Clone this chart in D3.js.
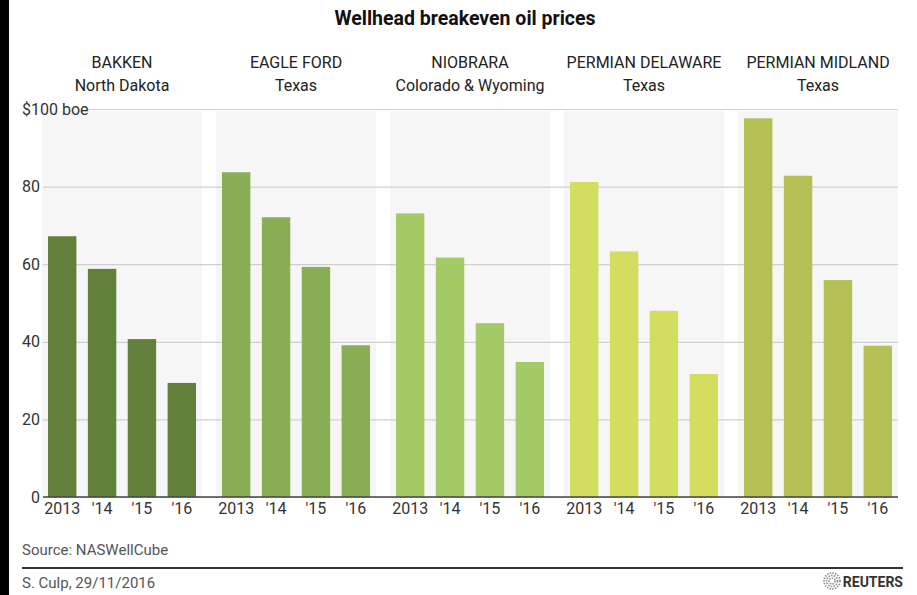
<!DOCTYPE html>
<html>
<head>
<meta charset="utf-8">
<script src="https://cdn.jsdelivr.net/npm/d3@7"></script>
<style>
  body { margin: 0; background: #fff; }
  text { font-family: Roboto, "Noto Sans", sans-serif; }
</style>
</head>
<body>
<div id="chart"></div>
<script>
// data
var regions = ["BAKKEN", "EAGLE FORD", "NIOBRARA", "PERMIAN DELAWARE", "PERMIAN MIDLAND"];
var states = ["North Dakota", "Texas", "Colorado & Wyoming", "Texas", "Texas"];
var years = ["2013", "'14", "'15", "'16"];
var bakken = [67.2, 58.8, 40.7, 29.4];
var eagleFord = [83.7, 72.1, 59.3, 39.1];
var niobrara = [73.1, 61.7, 44.8, 34.8];
var permianDelaware = [81.2, 63.3, 48.0, 31.7];
var permianMidland = [97.6, 82.8, 55.9, 39.0];
var yTicks = [0, 20, 40, 60, 80, 100];

var regionColors = ["#62803c", "#8aae55", "#a3ca66", "#d3de5f", "#b4bf54"];
var series = [bakken, eagleFord, niobrara, permianDelaware, permianMidland];

var svgWidth = 917, svgHeight = 595;

var svg = d3.select("#chart")
  .append("svg")
  .attr("width", svgWidth)
  .attr("height", svgHeight);

// dark strip at the left edge of the screenshot
svg.append("rect")
  .attr("x", 0).attr("y", 0)
  .attr("width", 9).attr("height", svgHeight)
  .attr("fill", "#000");

var x0 = d3.scaleBand()
  .domain(regions)
  .range([42, 898])
  .paddingInner(14 / 174)
  .paddingOuter(0);

var x1 = d3.scaleBand()
  .domain(years)
  .range([0, x0.bandwidth()])
  .paddingInner(0.2875)
  .paddingOuter(0.15);

var y = d3.scaleLinear()
  .domain([0, 100])
  .range([497, 109]);

// panel backgrounds
svg.append("g").selectAll("rect")
  .data(regions)
  .enter()
  .append("rect")
  .attr("x", d => x0(d))
  .attr("y", y(100) + 2)
  .attr("width", x0.bandwidth())
  .attr("height", y(0) - y(100) - 2)
  .attr("fill", "#f6f6f6");

// gridlines + y labels
var yAxis = svg.append("g")
  .attr("transform", "translate(43,0)")
  .call(d3.axisLeft(y).tickValues(yTicks).tickSize(-(898 - 43)).tickPadding(3)
    .tickFormat(d => d === 100 ? "$100 boe" : d));
yAxis.select(".domain").remove();
yAxis.selectAll(".tick line")
  .attr("stroke", "#cfcfcf")
  .attr("stroke-width", 1.2);
yAxis.selectAll(".tick text")
  .attr("fill", "#333")
  .style("font-size", "16px");
// the $100 boe label sits left aligned and pushes the line over
yAxis.selectAll(".tick")
  .filter(d => d === 100)
  .each(function() {
    d3.select(this).select("text")
      .attr("text-anchor", "start")
      .attr("x", 22 - 43);
    d3.select(this).select("line")
      .attr("x1", 87 - 43);
  });

// bars
var panels = svg.append("g").selectAll("g")
  .data(regions)
  .enter()
  .append("g")
  .attr("transform", d => `translate(${x0(d)},0)`);

panels.selectAll("rect")
  .data((d, i) => series[i].map((v, j) => ({year: years[j], value: v, color: regionColors[i]})))
  .enter()
  .append("rect")
  .attr("x", d => x1(d.year))
  .attr("y", d => y(d.value))
  .attr("width", x1.bandwidth())
  .attr("height", d => y(0) - y(d.value))
  .attr("fill", d => d.color);

// year labels under each panel
panels.each(function() {
  var ax = d3.select(this).append("g")
    .attr("transform", `translate(0,${y(0)})`)
    .call(d3.axisBottom(x1).tickSize(0).tickPadding(6));
  ax.select(".domain").remove();
  ax.selectAll("text")
    .attr("fill", "#333")
    .style("font-size", "16px");
});

// baseline
svg.append("line")
  .attr("x1", 43).attr("x2", 898)
  .attr("y1", y(0)).attr("y2", y(0))
  .attr("stroke", "#444")
  .attr("stroke-width", 1.5);

// panel titles
var heads = svg.append("g").selectAll("g")
  .data(regions)
  .enter()
  .append("g")
  .attr("transform", d => `translate(${x0(d) + x0.bandwidth() / 2},0)`);
heads.append("text")
  .attr("y", 68)
  .attr("text-anchor", "middle")
  .attr("fill", "#222")
  .style("font-size", "16px")
  .text(d => d);
heads.append("text")
  .attr("y", 91)
  .attr("text-anchor", "middle")
  .attr("fill", "#222")
  .style("font-size", "16px")
  .text((d, i) => states[i]);

// title
svg.append("text")
  .attr("x", 465)
  .attr("y", 25)
  .attr("text-anchor", "middle")
  .attr("fill", "#111")
  .style("font-size", "19.5px")
  .style("font-weight", "bold")
  .text("Wellhead breakeven oil prices");

// footer
svg.append("text")
  .attr("x", 22).attr("y", 555)
  .attr("fill", "#555")
  .style("font-size", "15px")
  .text("Source:  NASWellCube");

svg.append("line")
  .attr("x1", 22).attr("x2", 903)
  .attr("y1", 568).attr("y2", 568)
  .attr("stroke", "#333")
  .attr("stroke-width", 2);

svg.append("text")
  .attr("x", 22).attr("y", 588)
  .attr("fill", "#555")
  .style("font-size", "15px")
  .text("S. Culp, 29/11/2016");

// reuters mark
var logo = svg.append("g").attr("transform", "translate(832,581)");
[8, 5.5, 3].forEach(function(r) {
  logo.append("circle")
    .attr("r", r)
    .attr("fill", "none")
    .attr("stroke", "#888")
    .attr("stroke-width", 1.6)
    .attr("stroke-dasharray", "1.5,1.2");
});
svg.append("text")
  .attr("x", 903).attr("y", 587)
  .attr("text-anchor", "end")
  .attr("fill", "#333")
  .style("font-size", "14px")
  .style("font-weight", "bold")
  .text("REUTERS");
</script>
</body>
</html>
